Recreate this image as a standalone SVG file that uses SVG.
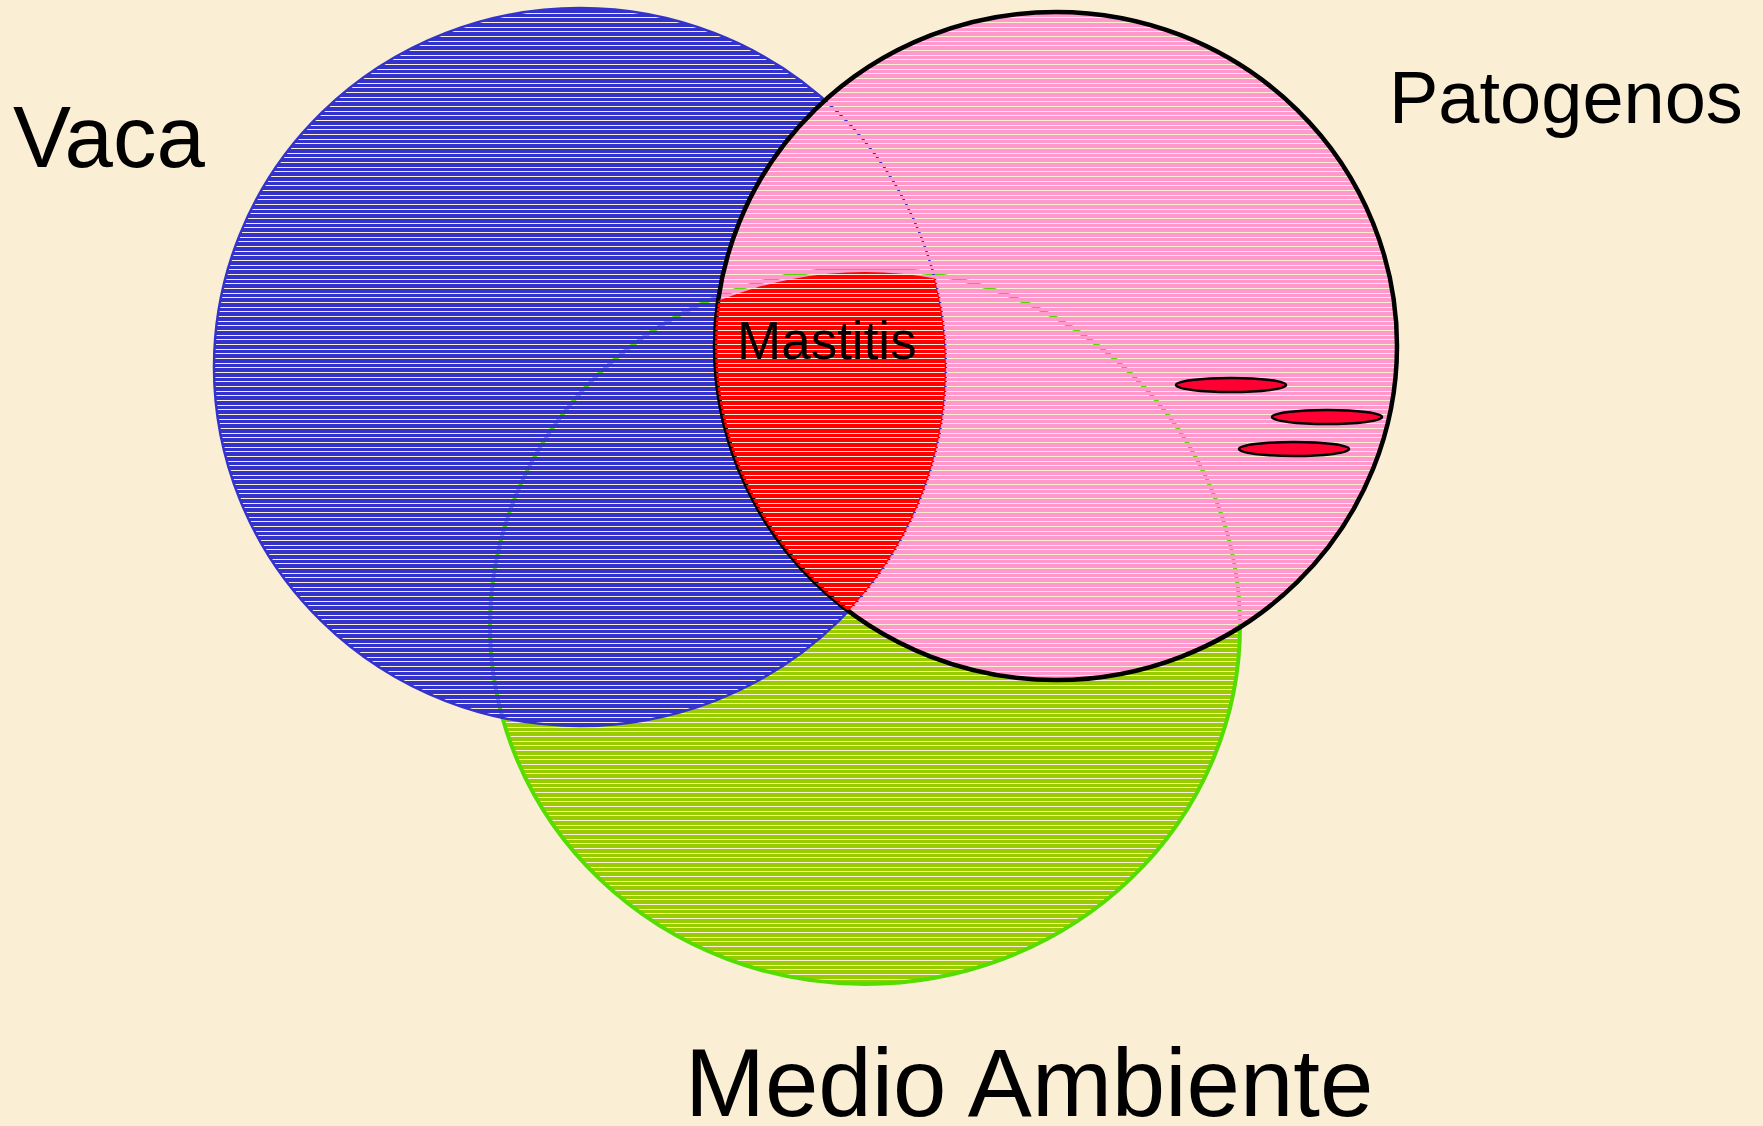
<svg xmlns="http://www.w3.org/2000/svg" width="1763" height="1126" viewBox="0 0 1763 1126">
  <defs>
    <style>
      .lbl { font-family: "Liberation Sans", Arial, sans-serif; fill: #000; }
    </style>
    <pattern id="pBlue" patternUnits="userSpaceOnUse" x="0" y="0" width="20" height="14" fill="#3333CC"><rect y="0" width="20" height="3"/><rect y="4" width="20" height="4"/><rect y="9" width="20" height="4"/></pattern>
    <pattern id="pPink" patternUnits="userSpaceOnUse" x="0" y="0" width="20" height="14" fill="#FF99CC"><rect y="0" width="20" height="3"/><rect y="4" width="20" height="4"/><rect y="9" width="20" height="4"/></pattern>
    <pattern id="pGreen" patternUnits="userSpaceOnUse" x="0" y="0" width="20" height="14" fill="#99CC00"><rect y="0" width="20" height="3"/><rect y="4" width="20" height="4"/><rect y="9" width="20" height="4"/></pattern>
    <pattern id="pRed" patternUnits="userSpaceOnUse" x="0" y="0" width="20" height="14" fill="#FF0000"><rect y="0" width="20" height="3"/><rect y="4" width="20" height="4"/><rect y="9" width="20" height="4"/></pattern>
    <clipPath id="clipBlue"><ellipse cx="580" cy="367" rx="366" ry="359"/></clipPath>
    <clipPath id="clipPink"><ellipse cx="1056" cy="346" rx="341" ry="334"/></clipPath>
  </defs>
  <rect width="1763" height="1126" fill="#FAEED5"/>

  <g id="medio-ambiente">
    <ellipse cx="865" cy="626" rx="375" ry="358" fill="url(#pGreen)" stroke="#55DD00" stroke-width="4"/>
  </g>
  <g id="vaca">
    <ellipse cx="580" cy="367" rx="366" ry="359" fill="url(#pBlue)" stroke="#3333CC" stroke-width="2.5"/>
  </g>
  <g id="patogenos">
    <ellipse cx="1056" cy="346" rx="341" ry="334" fill="url(#pPink)" stroke="#000" stroke-width="4.5"/>
  </g>
  <g id="mastitis">
    <g clip-path="url(#clipBlue)">
      <ellipse cx="865" cy="630" rx="373" ry="358" fill="url(#pRed)" clip-path="url(#clipPink)"/>
    </g>
    <text class="lbl" x="737" y="359" font-size="53">Mastitis</text>
  </g>
  <g id="bacterias" fill="#FF0033" stroke="#000" stroke-width="2.5">
    <ellipse cx="1231" cy="385" rx="55" ry="7"/>
    <ellipse cx="1327" cy="417" rx="55" ry="7"/>
    <ellipse cx="1294" cy="449" rx="55" ry="7"/>
  </g>
  <g id="connectors"/>
  <g id="labels">
    <text class="lbl" x="13" y="167" font-size="87">Vaca</text>
    <text class="lbl" x="1389" y="123" font-size="74">Patogenos</text>
    <text class="lbl" x="685" y="1116" font-size="96">Medio Ambiente</text>
  </g>
</svg>
